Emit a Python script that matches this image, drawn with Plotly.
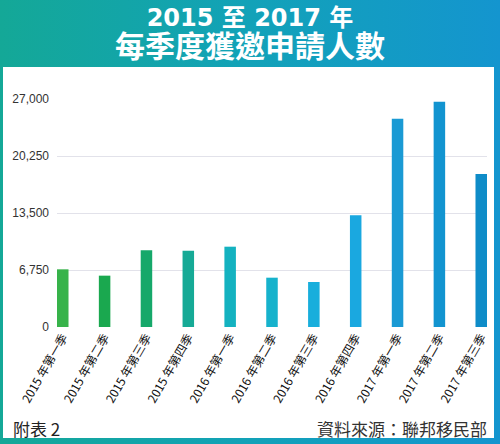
import base64
import plotly.graph_objects as go

# data
quarters = [
    "2015 年第一季", "2015 年第二季", "2015 年第三季", "2015 年第四季",
    "2016 年第一季", "2016 年第二季", "2016 年第三季", "2016 年第四季",
    "2017 年第一季", "2017 年第二季", "2017 年第三季",
]
applicants = [6830, 6080, 9080, 9040, 9510, 5840, 5330, 13220, 24670, 26680, 18120]
bar_colors = [
    "#37b34a", "#1aa84f", "#16a86a", "#16aa96", "#14b2c0", "#16b2cc",
    "#18aedc", "#1aa8e0", "#1a9ad4", "#1294d0", "#0e8cc8",
]
y_ticks = [0, 6750, 13500, 20250, 27000]

W, H = 500, 444
L, R, T, B = 57, 13, 99, 117
pw, ph = W - L - R, H - T - B

# banner gradient + white panel as one svg background
svg = f"""<svg xmlns='http://www.w3.org/2000/svg' width='{W}' height='{H}'>
<defs><linearGradient id='g' x1='0' y1='0' x2='1' y2='0'>
<stop offset='0' stop-color='#14a897'/><stop offset='0.5' stop-color='#12a2b8'/>
<stop offset='1' stop-color='#1495cf'/></linearGradient></defs>
<rect x='0' y='0' width='{W}' height='{H}' fill='url(#g)'/>
<rect x='3' y='67' width='491' height='371' fill='white'/>
</svg>"""
bg = "data:image/svg+xml;base64," + base64.b64encode(svg.encode()).decode()


def px(x):
    return (x - L) / pw


def py(y):
    return (H - B - y) / ph


fig = go.Figure()
fig.add_trace(go.Bar(
    x=list(range(len(quarters))),
    y=applicants,
    width=0.275,
    marker=dict(color=bar_colors, line=dict(width=0)),
    hoverinfo="skip",
))

fig.add_layout_image(dict(
    source=bg, xref="paper", yref="paper",
    x=px(0), y=py(0), sizex=W / pw, sizey=H / ph,
    xanchor="left", yanchor="top", sizing="stretch", layer="below",
))

cjk = "Noto Sans CJK TC"
title = ("<b>2015 至 2017 年</b><br>"
         "<span style='font-family:\"Noto Sans CJK TC\";font-size:30px'><b>每季度獲邀申請人數</b></span>")
notes = [
    (title, 250, 35, "center", "DejaVu Sans, " + cjk, 24, "white"),
    ("附表 2", 11, 428, "left", cjk, 17, "#222222"),
    ("資料來源：聯邦移民部", 489, 428, "right", cjk, 17, "#333333"),
]
for text, x, y, anchor, fam, size, col in notes:
    fig.add_annotation(text=text, x=px(x), y=py(y), xanchor=anchor, yanchor="middle",
                       xref="paper", yref="paper", showarrow=False,
                       font=dict(family=fam, size=size, color=col))

fig.update_layout(
    width=W, height=H,
    margin=dict(l=L, r=R, t=T, b=B),
    paper_bgcolor="white",
    plot_bgcolor="rgba(0,0,0,0)",
    showlegend=False,
    xaxis=dict(
        range=[-0.1375, len(quarters) - 1 + 0.1375],
        tickvals=list(range(len(quarters))), ticktext=quarters,
        tickangle=-60, showgrid=False, zeroline=False, ticks="",
        tickfont=dict(family=cjk, size=12, color="#111111"),
    ),
    yaxis=dict(
        range=[0, 27000], tickvals=y_ticks, tickformat=",",
        showgrid=True, gridcolor="#e2e2ea", gridwidth=1, zeroline=False,
        ticks="", ticklabelstandoff=7,
        tickfont=dict(family="Liberation Sans", size=12, color="#333333"),
    ),
)

fig.write_html("out.html", config={"displayModeBar": False},
               post_script="document.body.style.margin='0';")
